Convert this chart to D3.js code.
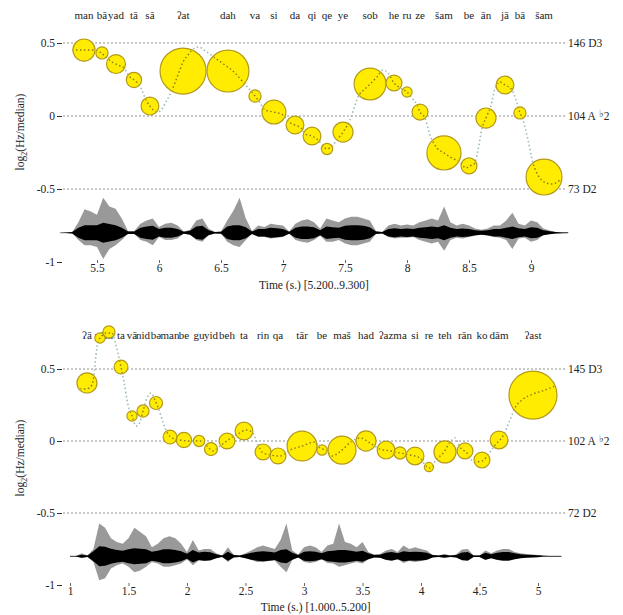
<!DOCTYPE html>
<html>
<head>
<meta charset="utf-8">
<script src="https://cdn.jsdelivr.net/npm/d3@7"></script>
<style>
  body { margin: 0; background: #fff; }
  svg text { font-family: "Liberation Serif", "Times New Roman", serif; fill: #222; }
</style>
</head>
<body>
<div id="chart"></div>
<script>
// ---- panel 1 : 5.2 .. 9.3 s ----
const syl1 = ["man","bā","yad","tā","sā","ʔat","dah","va","si","da","qi","qe","ye","sob","he","ru","ze","šam","be","ān","jā","bā","šam"];
const time1 = [5.395,5.540,5.653,5.798,5.927,6.194,6.556,6.774,6.927,7.097,7.234,7.355,7.484,7.702,7.895,8.000,8.105,8.298,8.500,8.637,8.790,8.911,9.105];
const pitch1 = [0.452,0.432,0.356,0.247,0.068,0.308,0.308,0.137,0.027,-0.062,-0.137,-0.226,-0.110,0.219,0.226,0.164,0.027,-0.253,-0.342,-0.014,0.212,0.021,-0.418];
const dur1 = [23,7,17,11,15,100,83,7,27,15,15,6,19,48,12,5,12,55,12,19,15,7,61];
const contour1 = [[5.298,0.452],[5.395,0.452],[5.484,0.452],[5.524,0.438],[5.573,0.404],[5.621,0.370],[5.669,0.349],[5.718,0.329],[5.750,0.281],[5.798,0.247],[5.847,0.205],[5.895,0.110],[5.927,0.068],[5.984,0.027],[6.008,0.034],[6.065,0.110],[6.105,0.178],[6.153,0.281],[6.194,0.370],[6.234,0.418],[6.266,0.452],[6.315,0.473],[6.387,0.438],[6.452,0.397],[6.532,0.349],[6.613,0.295],[6.677,0.233],[6.734,0.178],[6.774,0.137],[6.815,0.089],[6.855,0.041],[6.927,0.027],[7.000,0.007],[7.048,-0.041],[7.097,-0.062],[7.145,-0.082],[7.177,-0.123],[7.234,-0.137],[7.282,-0.164],[7.323,-0.205],[7.355,-0.226],[7.395,-0.205],[7.435,-0.164],[7.484,-0.110],[7.540,-0.027],[7.581,0.075],[7.605,0.130],[7.661,0.185],[7.702,0.219],[7.758,0.267],[7.806,0.315],[7.847,0.295],[7.895,0.226],[7.944,0.192],[8.000,0.164],[8.040,0.123],[8.081,0.075],[8.105,0.027],[8.145,-0.014],[8.185,-0.130],[8.242,-0.219],[8.298,-0.253],[8.363,-0.288],[8.427,-0.315],[8.476,-0.356],[8.508,-0.342],[8.548,-0.322],[8.573,-0.233],[8.605,-0.082],[8.637,-0.014],[8.685,0.096],[8.710,0.192],[8.750,0.233],[8.790,0.212],[8.847,0.178],[8.879,0.110],[8.911,0.021],[8.935,-0.027],[8.976,-0.164],[9.016,-0.322],[9.056,-0.404],[9.105,-0.452],[9.169,-0.466],[9.234,-0.438]];
const wave1Top = [0,0.02,0.05,0.4,0.74,0.68,0.6,1.0,0.8,0.75,0.5,0.1,0.1,0.35,0.45,0.5,0.25,0.35,0.38,0.3,0.08,0.15,0.45,0.5,0.2,0.05,0.08,0.45,0.7,1.0,0.5,0.1,0.3,0.25,0.35,0.32,0.3,0.08,0.35,0.45,0.48,0.4,0.2,0.5,0.45,0.4,0.5,0.55,0.55,0.5,0.45,0.1,0.05,0.3,0.35,0.3,0.33,0.3,0.4,0.45,0.5,0.45,0.8,0.4,0.3,0.35,0.3,0.2,0.15,0.2,0.3,0.3,0.45,0.65,0.35,0.3,0.45,0.4,0.2,0.12,0.06,0.03,0.01];
const wave1Bot = [0,0.02,0.04,0.3,0.45,0.45,0.5,0.8,0.55,0.45,0.3,0.06,0.06,0.3,0.35,0.45,0.2,0.3,0.3,0.25,0.05,0.1,0.3,0.35,0.12,0.03,0.05,0.35,0.45,0.5,0.3,0.06,0.2,0.2,0.25,0.22,0.2,0.05,0.3,0.35,0.38,0.3,0.15,0.35,0.35,0.3,0.4,0.45,0.45,0.4,0.35,0.06,0.04,0.2,0.25,0.22,0.22,0.2,0.3,0.35,0.4,0.35,0.6,0.3,0.22,0.25,0.2,0.15,0.1,0.15,0.2,0.22,0.3,0.55,0.25,0.22,0.35,0.3,0.12,0.08,0.04,0.02,0.01];
const wave1Core = [0,0.01,0.03,0.2,0.3,0.3,0.3,0.4,0.35,0.3,0.2,0.05,0.05,0.2,0.25,0.28,0.15,0.2,0.2,0.15,0.04,0.08,0.25,0.28,0.1,0.03,0.04,0.25,0.3,0.3,0.22,0.05,0.15,0.15,0.2,0.18,0.15,0.04,0.2,0.25,0.25,0.22,0.1,0.25,0.22,0.2,0.28,0.3,0.3,0.28,0.22,0.05,0.03,0.15,0.18,0.15,0.17,0.15,0.2,0.22,0.25,0.22,0.3,0.2,0.15,0.17,0.15,0.1,0.08,0.1,0.15,0.15,0.2,0.25,0.18,0.15,0.22,0.2,0.1,0.06,0.03,0.015,0.01];
const hz1 = ["146","104","73"];
const xTicks1 = [5.5,6,6.5,7,7.5,8,8.5,9];

// ---- panel 2 : 1.0 .. 5.2 s ----
const syl2 = ["ʔā","yā","ni","ta","vā","nid","bə","man","be","gu","yid","beh","ta","rin","qa","tār","be","maš","had","ʔaz","ma","si","re","teh","rān","ko","dām","ʔast"];
const time2 = [1.145,1.256,1.333,1.436,1.530,1.624,1.735,1.855,1.974,2.103,2.205,2.342,2.487,2.650,2.778,2.983,3.154,3.325,3.530,3.701,3.821,3.949,4.068,4.205,4.376,4.521,4.667,4.957];
const pitch2 = [0.403,0.715,0.757,0.514,0.174,0.208,0.264,0.028,0.007,0,-0.056,0,0.069,-0.076,-0.104,-0.035,-0.063,-0.063,0,-0.063,-0.083,-0.104,-0.181,-0.076,-0.069,-0.132,0.007,0.319];
const dur2 = [19,5,7,9,5,7,8,9,11,6,8,12,15,12,12,42,5,37,19,15,7,15,4,23,12,12,15,109];
const contour2 = [[1.085,0.361],[1.137,0.361],[1.188,0.389],[1.205,0.458],[1.222,0.597],[1.239,0.688],[1.265,0.722],[1.308,0.750],[1.359,0.750],[1.393,0.667],[1.419,0.576],[1.436,0.514],[1.462,0.410],[1.496,0.250],[1.530,0.174],[1.564,0.104],[1.590,0.118],[1.624,0.208],[1.658,0.299],[1.692,0.333],[1.726,0.285],[1.761,0.215],[1.803,0.111],[1.838,0.049],[1.872,0.021],[1.940,0.007],[2.026,0],[2.111,0],[2.171,-0.035],[2.222,-0.069],[2.282,-0.035],[2.350,0.007],[2.436,0.049],[2.504,0.076],[2.556,0.063],[2.598,-0.007],[2.641,-0.076],[2.709,-0.097],[2.795,-0.104],[2.880,-0.063],[2.983,-0.035],[3.094,-0.007],[3.137,-0.049],[3.188,-0.063],[3.239,-0.104],[3.325,-0.063],[3.410,0],[3.479,0.021],[3.564,-0.014],[3.650,-0.056],[3.735,-0.069],[3.821,-0.083],[3.906,-0.097],[3.991,-0.118],[4.043,-0.174],[4.077,-0.188],[4.128,-0.132],[4.197,-0.076],[4.248,-0.007],[4.291,0.021],[4.333,-0.042],[4.393,-0.083],[4.453,-0.146],[4.521,-0.139],[4.590,-0.076],[4.641,-0.021],[4.701,0.035],[4.761,0.146],[4.803,0.229],[4.863,0.285],[4.957,0.326],[5.060,0.354],[5.145,0.382]];
const wave2Top = [0.01,0.02,0.15,0.05,0.3,0.95,0.85,0.6,0.5,0.45,0.6,0.85,0.75,0.65,0.35,0.45,0.6,0.65,0.6,0.45,0.2,0.55,0.25,0.3,0.3,0.15,0.05,0.35,0.08,0.05,0.15,0.25,0.35,0.4,0.35,0.3,0.55,0.95,0.25,0.1,0.35,0.4,0.35,0.2,0.4,0.45,0.95,0.5,0.45,0.35,0.5,0.2,0.1,0.12,0.25,0.3,0.2,0.4,0.3,0.35,0.3,0.25,0.08,0.05,0.12,0.05,0.1,0.28,0.3,0.05,0.05,0.25,0.15,0.25,0.3,0.3,0.2,0.15,0.12,0.1,0.08,0.03,0.02,0.01,0.01];
const wave2Bot = [0.01,0.02,0.1,0.04,0.25,0.75,0.7,0.45,0.35,0.3,0.4,0.55,0.5,0.4,0.25,0.3,0.4,0.4,0.35,0.3,0.15,0.35,0.2,0.22,0.2,0.1,0.04,0.25,0.06,0.04,0.1,0.18,0.25,0.25,0.22,0.2,0.4,0.55,0.18,0.07,0.25,0.28,0.25,0.15,0.28,0.3,0.4,0.35,0.3,0.25,0.3,0.15,0.07,0.08,0.18,0.22,0.15,0.28,0.22,0.25,0.22,0.18,0.06,0.04,0.08,0.04,0.07,0.2,0.22,0.04,0.04,0.18,0.1,0.18,0.22,0.22,0.15,0.1,0.08,0.07,0.05,0.02,0.015,0.01,0.01];
const wave2Core = [0.01,0.01,0.06,0.03,0.2,0.4,0.38,0.3,0.25,0.22,0.28,0.32,0.3,0.28,0.18,0.22,0.28,0.28,0.25,0.2,0.1,0.25,0.15,0.18,0.16,0.08,0.03,0.18,0.05,0.03,0.08,0.14,0.18,0.2,0.18,0.15,0.25,0.28,0.14,0.05,0.18,0.2,0.18,0.12,0.2,0.22,0.25,0.25,0.22,0.18,0.22,0.12,0.05,0.06,0.14,0.17,0.12,0.2,0.17,0.18,0.17,0.14,0.05,0.03,0.06,0.03,0.05,0.15,0.17,0.03,0.03,0.14,0.08,0.14,0.17,0.17,0.12,0.08,0.06,0.05,0.04,0.015,0.01,0.01,0.01];
const hz2 = ["145","102","72"];
const xTicks2 = [1,1.5,2,2.5,3,3.5,4,4.5,5];

// shared
const refLevels = [0.5, 0, -0.5];
const noteNames = ["D3","A♭2","D2"];
const yTicks = [0.5, 0, -0.5, -1];
const waveStep = 0.05;
const waveCenter = -0.8;

const panels = [
  { syl: syl1, time: time1, pitch: pitch1, dur: dur1, contour: contour1,
    top: wave1Top, bot: wave1Bot, core: wave1Core, t0: 5.2, hz: hz1, xTicks: xTicks1,
    title: "Time (s.) [5.200..9.300]",
    xDom: [5.5, 9], xRange: [97, 531], yRange: [43, 262], labelY: 15, axisY: 260, titleY: 285, yTitleY: 132 },
  { syl: syl2, time: time2, pitch: pitch2, dur: dur2, contour: contour2,
    top: wave2Top, bot: wave2Bot, core: wave2Core, t0: 1.0, hz: hz2, xTicks: xTicks2,
    title: "Time (s.) [1.000..5.200]",
    xDom: [1, 5], xRange: [70, 538], yRange: [369, 585], labelY: 335, axisY: 583, titleY: 607, yTitleY: 458 }
];

const svg = d3.select("#chart").append("svg")
  .attr("width", 623).attr("height", 615)
  .attr("font-family", "Liberation Serif, Times New Roman, serif");

const rScale = d3.scaleSqrt().domain([0, 100]).range([0, 23]);
const ampScale = d3.scalePow().exponent(1.3).domain([0, 1]).range([0, 35]);
const coreScale = d3.scaleLinear().domain([0, 1]).range([0, 25]);

panels.forEach((p, i) => {
  const x = d3.scaleLinear().domain(p.xDom).range(p.xRange);
  const y = d3.scaleLinear().domain([0.5, -1]).range(p.yRange);
  const g = svg.append("g");

  // dotted reference lines
  g.selectAll(".grid").data(refLevels).join("line")
    .attr("x1", 63).attr("x2", 566)
    .attr("y1", d => y(d)).attr("y2", d => y(d))
    .attr("stroke", "#909090").attr("stroke-width", 1)
    .attr("stroke-dasharray", "2,2");

  // Hz / note labels on the right
  const rl = g.selectAll(".rlab").data(refLevels).join("text")
    .attr("x", 568).attr("y", d => y(d)).attr("dy", "0.35em")
    .attr("font-size", 11.5);
  rl.each(function(d, k) {
    const t = d3.select(this);
    const parts = noteNames[k].split("♭");
    t.append("tspan").text(p.hz[k] + " " + parts[0]);
    if (parts.length > 1) {
      t.append("tspan").attr("font-size", 10).attr("dy", -3).attr("dx", 3).text("♭");
      t.append("tspan").attr("dy", 3).text(parts[1]);
    }
  });

  // y axis
  const ya = g.append("g").attr("transform", "translate(62,0)")
    .call(d3.axisLeft(y).tickValues(yTicks).tickSize(5).tickPadding(2).tickFormat(d => String(d)));
  ya.attr("font-family", null).attr("font-size", 11.5);
  ya.select(".domain").remove();
  ya.selectAll("line").attr("stroke", "#333");

  // x axis
  const xa = g.append("g").attr("transform", `translate(0,${p.axisY})`)
    .call(d3.axisBottom(x).tickValues(p.xTicks).tickSize(3).tickPadding(1).tickFormat(d => String(d)));
  xa.attr("font-family", null).attr("font-size", 11.5);
  xa.select(".domain").remove();
  xa.selectAll("line").attr("stroke", "#666");

  g.append("text")
    .attr("x", (x(p.t0) + x(p.t0 + (p.top.length - 1) * waveStep)) / 2)
    .attr("y", p.titleY).attr("dy", "0.35em")
    .attr("text-anchor", "middle").attr("font-size", 11.5).text(p.title);

  const yt = g.append("text")
    .attr("transform", `translate(24,${p.yTitleY}) rotate(-90)`)
    .attr("text-anchor", "middle").attr("font-size", 11.5);
  yt.append("tspan").text("log");
  yt.append("tspan").attr("font-size", 8).attr("dy", 3).text("2");
  yt.append("tspan").attr("dy", -3).text("(Hz/median)");

  // waveform: grey peaks, black body
  const pts = p.top.map((a, k) => ({ t: p.t0 + k * waveStep, top: a, bot: p.bot[k], core: p.core[k] }));
  const yc = y(waveCenter);
  g.append("line")
    .attr("x1", x(pts[0].t)).attr("x2", x(pts[pts.length - 1].t))
    .attr("y1", yc).attr("y2", yc).attr("stroke", "#888").attr("stroke-width", 1);
  g.append("path").datum(pts)
    .attr("d", d3.area().x(d => x(d.t)).y0(d => yc + ampScale(d.bot)).y1(d => yc - ampScale(d.top)))
    .attr("fill", "#999");
  g.append("path").datum(pts)
    .attr("d", d3.area().x(d => x(d.t)).y0(d => yc + coreScale(d.core)).y1(d => yc - coreScale(d.core)))
    .attr("fill", "#000");

  // syllable labels
  g.selectAll(".syl").data(p.syl).join("text")
    .attr("x", (d, k) => x(p.time[k])).attr("y", p.labelY).attr("dy", "0.35em")
    .attr("text-anchor", "middle").attr("font-size", 11).text(d => d);

  // pitch contour (light, under the circles)
  const line = d3.line().x(d => x(d[0])).y(d => y(d[1])).curve(d3.curveMonotoneX);
  g.append("path").datum(p.contour).attr("d", line)
    .attr("fill", "none").attr("stroke", "#9cbcb2").attr("stroke-width", 1.6)
    .attr("stroke-dasharray", "1.5,2.5");

  const syls = p.syl.map((s, k) => ({ t: p.time[k], v: p.pitch[k], d: p.dur[k] }));

  // circles
  g.selectAll(".nuc").data(syls).join("circle")
    .attr("cx", d => x(d.t)).attr("cy", d => y(d.v)).attr("r", d => rScale(d.d))
    .attr("fill", "#ffec00").attr("stroke", "#b39a1a").attr("stroke-width", 1.2);

  // dark contour inside circles
  const clip = svg.append("clipPath").attr("id", "nuc" + i);
  clip.selectAll("circle").data(syls).join("circle")
    .attr("cx", d => x(d.t)).attr("cy", d => y(d.v)).attr("r", d => rScale(d.d) - 1);
  g.append("path").datum(p.contour).attr("d", line)
    .attr("clip-path", `url(#nuc${i})`)
    .attr("fill", "none").attr("stroke", "#8a7a14").attr("stroke-width", 1.4)
    .attr("stroke-dasharray", "1.5,2.5");
});
</script>
</body>
</html>
